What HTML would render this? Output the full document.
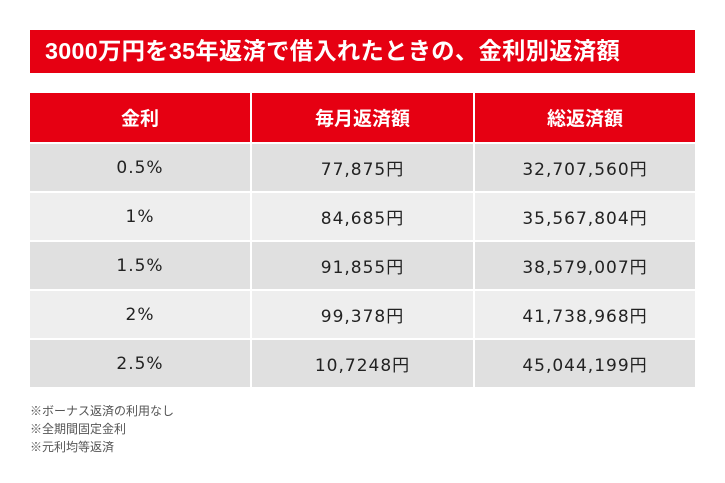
<!DOCTYPE html>
<html><head><meta charset="utf-8"><style>
body{margin:0;width:725px;height:483px;background:#fff;font-family:"Liberation Sans","Noto Sans CJK JP",sans-serif;position:relative;overflow:hidden}
.title{position:absolute;left:30px;top:30px;width:665px;height:43px;background:#e60012;color:#fff;font-weight:bold;font-size:23.3px;line-height:43px;padding-left:15px;box-sizing:border-box;letter-spacing:0.3px;white-space:nowrap}
table{position:absolute;left:30px;top:93px;width:665px;border-collapse:collapse}
td,th{border:2px solid #fff;text-align:center;padding:0}
tr td:first-child,tr th:first-child{border-left:none}
tr td:last-child,tr th:last-child{border-right:none}
th{background:#e60012;color:#fff;font-size:19px;height:49px;border-top:none}
td{font-family:"DejaVu Sans","Noto Sans CJK JP",sans-serif;font-size:17px;color:#222;height:47px;letter-spacing:1px}
tr:nth-child(odd) td{background:#e0e0e0}
tr:nth-child(even) td{background:#eeeeee}
.notes{position:absolute;left:30px;top:402px;font-size:12px;color:#555;line-height:18px}
</style></head><body>
<div class="title">3000万円を35年返済で借入れたときの、金利別返済額</div>
<table>
<thead><tr><th style="width:220px">金利</th><th style="width:221px">毎月返済額</th><th>総返済額</th></tr></thead>
<tbody>
<tr><td>0.5%</td><td>77,875円</td><td>32,707,560円</td></tr>
<tr><td>1%</td><td>84,685円</td><td>35,567,804円</td></tr>
<tr><td>1.5%</td><td>91,855円</td><td>38,579,007円</td></tr>
<tr><td>2%</td><td>99,378円</td><td>41,738,968円</td></tr>
<tr><td>2.5%</td><td>10,7248円</td><td>45,044,199円</td></tr>
</tbody></table>
<div class="notes">※ボーナス返済の利用なし<br>※全期間固定金利<br>※元利均等返済</div>
</body></html>
